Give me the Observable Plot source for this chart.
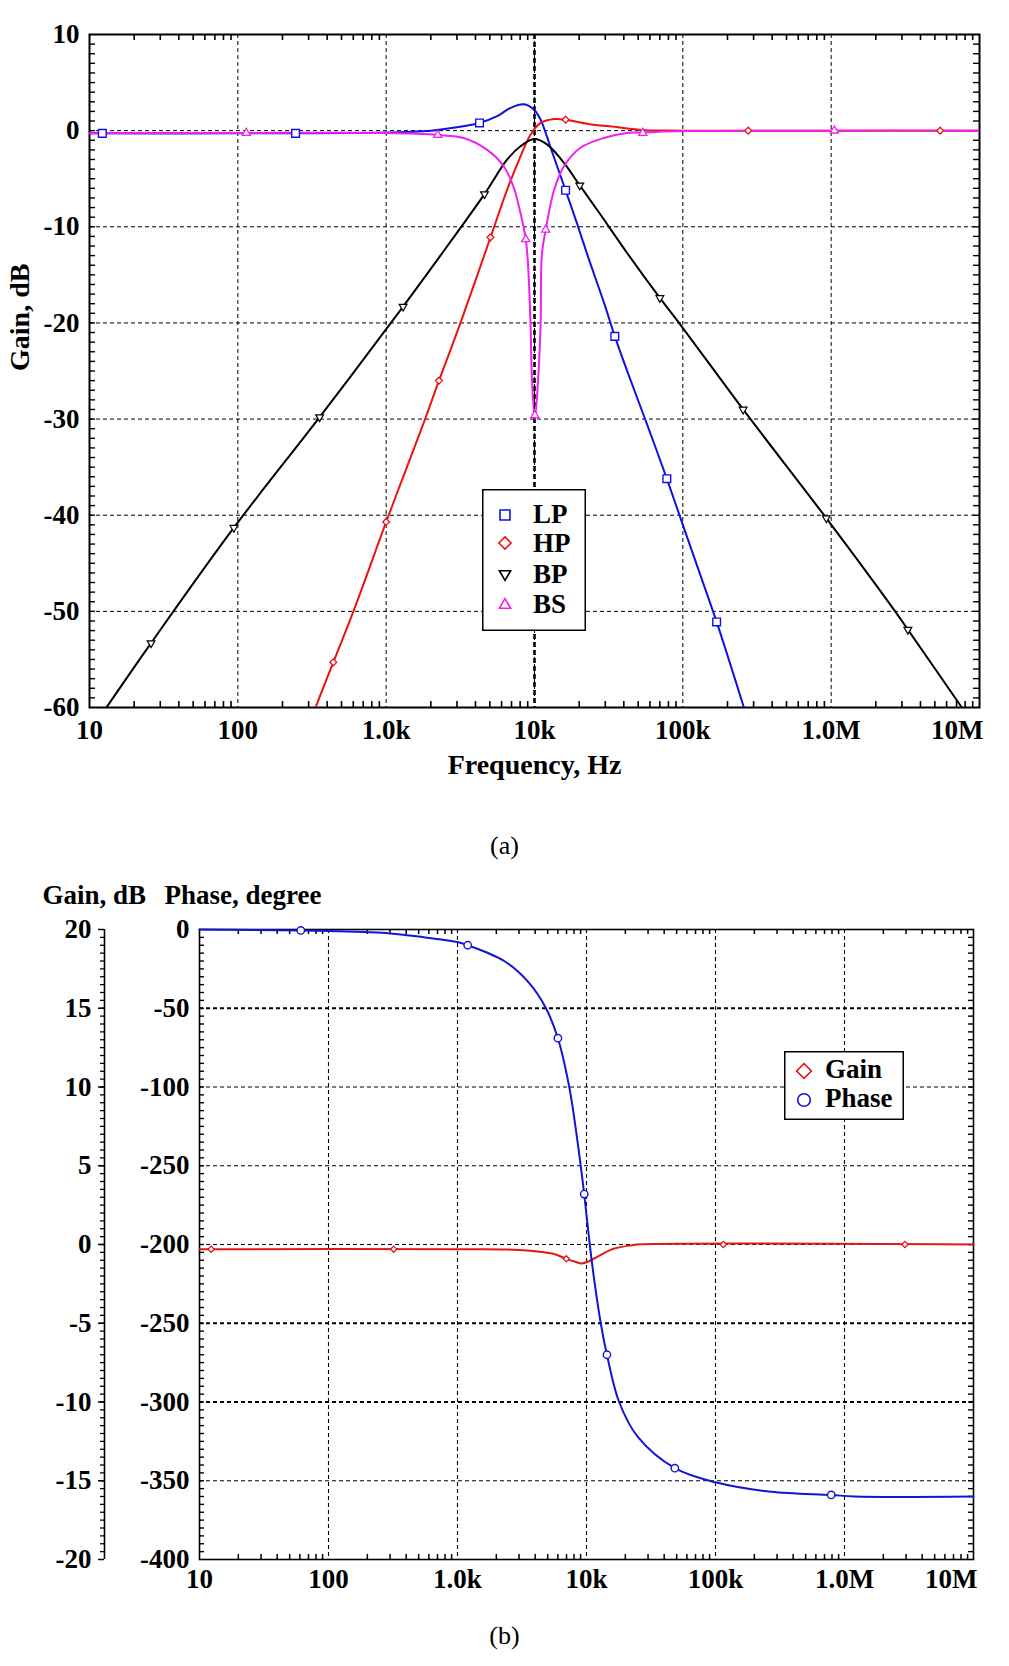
<!DOCTYPE html>
<html>
<head>
<meta charset="utf-8">
<script src="https://cdn.jsdelivr.net/npm/d3@7"></script>
<script src="https://cdn.jsdelivr.net/npm/@observablehq/plot@0.6"></script>
<style>
  html, body { margin: 0; padding: 0; background: #fff; overflow: hidden; }
  #page { position: relative; width: 1009px; height: 1666px; }
  #page > * { position: absolute; }
</style>
</head>
<body>
<div id="page"></div>
<script>
// ---------- (a) filter responses: frequency (Hz) and gain (dB) ----------
const lpFreq = [10, 100, 1000, 2000, 3000, 4260, 5600, 6900, 8470, 9960, 11000, 11900, 13200, 16200, 19400, 22700, 29700, 34800, 42600, 56600, 78000, 100000, 129000, 169000, 258000];
const lpGain = [-0.28, -0.28, -0.2, 0, 0.35, 0.8, 1.5, 2.36, 2.74, 2.15, 1.14, -0.24, -2.3, -6.2, -9.7, -12.9, -18.1, -21.4, -25.2, -30.3, -36.2, -41.0, -45.9, -51.1, -60];

const hpFreq = [334, 440, 605, 1000, 1310, 1840, 2270, 3170, 5050, 6550, 8050, 9400, 11000, 13600, 16200, 23000, 35900, 44000, 55000, 100000, 1e7];
const hpGain = [-60, -55.3, -49.9, -40.7, -35.9, -29.9, -26.0, -20, -11.1, -6.1, -2.67, -0.42, 0.8, 1.2, 1.14, 0.7, 0.38, 0.2, 0.05, 0, 0];

const bpFreq = [13, 26, 94, 356, 1300, 2320, 4600, 6550, 8050, 9960, 12200, 15800, 20200, 27900, 42000, 70000, 97500, 255000, 927000, 2670000, 3290000, 7600000];
const bpGain = [-60, -53.3, -41.3, -29.8, -18.3, -13.0, -6.6, -3.0, -1.63, -0.87, -1.46, -3.36, -5.7, -8.75, -12.7, -17.4, -20.3, -29.0, -40.3, -49.9, -51.9, -60];

const bsFreq = [10, 114, 1000, 2230, 3330, 4800, 6200, 7200, 8050, 8730, 9000, 9400, 9600, 10050, 10600, 11000, 11200, 11900, 13600, 15800, 20300, 29300, 42000, 53700, 100000, 1000000, 1e7];
const bsGain = [-0.28, -0.24, -0.25, -0.45, -0.76, -2.0, -3.7, -5.8, -8.6, -11.3, -13.4, -20, -25.6, -30, -25.6, -20, -13, -10.3, -6.1, -3.7, -1.8, -0.76, -0.24, -0.2, -0.05, 0, 0];

// marker samples on each curve
const lpMarkF = [12.2, 245, 4260, 16200, 34800, 78000, 169000];
const lpMarkG = [-0.28, -0.28, 0.8, -6.2, -21.4, -36.2, -51.1];
const hpMarkF = [440, 1000, 2270, 5050, 16200, 276000, 5430000];
const hpMarkG = [-55.3, -40.7, -26.0, -11.1, 1.14, 0, 0];
const bpMarkF = [26, 94, 356, 1300, 4600, 20200, 70000, 255000, 927000, 3290000];
const bpMarkG = [-53.3, -41.3, -29.8, -18.3, -6.6, -5.7, -17.4, -29.0, -40.3, -51.9];
const bsMarkF = [114, 2230, 8730, 10050, 11900, 53700, 1050000];
const bsMarkG = [-0.24, -0.45, -11.3, -29.6, -10.3, -0.24, 0];

// ---------- (b) all-pass response ----------
const phaseFreq = [10, 60, 100, 300, 500, 1000, 1200, 2300, 3600, 4850, 6000, 7350, 8500, 9600, 10500, 11500, 12900, 14400, 17900, 24900, 48400, 100000, 269000, 789000, 1200000, 1e7];
const phaseDeg = [0, -0.6, -1, -2.5, -4.5, -8, -10, -20, -34, -50, -69, -100, -134, -168, -197, -223, -250, -270, -300, -322, -342, -351, -357, -359, -360, -360];
const phaseMarkF = [61, 1200, 6000, 9600, 14400, 48400, 789000];
const phaseMarkD = [-0.6, -10, -69, -168, -270, -342, -359];

const apGainFreq = [10, 1000, 3000, 5500, 6970, 8200, 9200, 10500, 12000, 14000, 16200, 21800, 25000, 1e7];
const apGainDb = [-0.3, -0.3, -0.35, -0.59, -0.91, -1.1, -1.2, -1.05, -0.8, -0.5, -0.27, -0.06, 0, 0];
const apGainMarkF = [12.3, 320, 6970, 115000, 2940000];
const apGainMarkD = [-0.3, -0.3, -0.91, 0, 0];

// ---------- axes ----------
const decadeTicks = [10, 100, 1e3, 1e4, 1e5, 1e6, 1e7];
const decadeLabels = ["10", "100", "1.0k", "10k", "100k", "1.0M", "10M"];
const freqGrid = [100, 1e3, 1e4, 1e5, 1e6];
const centerFreq = 1e4;

const gainTicksA = [10, 0, -10, -20, -30, -40, -50, -60];
const gainGridA = [0, -10, -20, -30, -40, -50];

const phaseTicks = [0, -50, -100, -150, -200, -250, -300, -350, -400];
const phaseTickLabels = ["0", "-50", "-100", "-250", "-200", "-250", "-300", "-350", "-400"];
const phaseGrid = [-50, -100, -150, -200, -250, -300, -350];
const phaseGridBold = [-50, -250, -300];
const gainTicksB = [20, 15, 10, 5, 0, -5, -10, -15, -20];

// ---------- styling ----------
const W = 1009;
const FONT = "'Liberation Serif', 'Times New Roman', serif";
const svgStyle = `background: transparent; overflow: visible; font-family: ${FONT};`;
const DASH = "4,3";
const C = {lp: "#1010e6", hp: "#ec1212", bp: "#000000", bs: "#ee22ee", phase: "#1414d4", gain: "#e01818"};
const PAGE_CENTER = 504;

const minorFreq = decadeTicks.slice(0, -1).flatMap(d => d3.range(2, 10).map(k => d * k));
const xLabel = new Map(decadeTicks.map((d, i) => [d, decadeLabels[i]]));
const phaseLabel = new Map(phaseTicks.map((d, i) => [d, phaseTickLabels[i]]));
const innerTicks = decadeTicks.slice(0, -1);
const lastTick = decadeTicks.slice(-1);

// frequency labels; the last one is pulled inside the right edge
function freqAxis(padding) {
  const common = {tickSize: 0, tickPadding: padding, tickFormat: d => xLabel.get(d), fontSize: 27, fontWeight: "bold", label: null};
  return [
    Plot.axisX(innerTicks, common),
    Plot.axisX(lastTick, {...common, textAnchor: "end", dx: 4})
  ];
}

const page = document.getElementById("page");
function place(node, left, top) {
  node.style.position = "absolute";
  node.style.left = left + "px";
  node.style.top = top + "px";
  page.appendChild(node);
}

// ---------- chart (a) ----------
const A = {width: W, height: 870, marginLeft: 89, marginRight: 30, marginTop: 34, marginBottom: 163};
const aW = A.width - A.marginLeft - A.marginRight;
const aH = A.height - A.marginTop - A.marginBottom;
const aCenter = A.marginLeft + aW / 2;
const minorGainA = d3.range(-59, 10);

const chartA = Plot.plot({
  ...A,
  style: svgStyle,
  x: {type: "log", domain: [10, 1e7]},
  y: {domain: [-60, 10]},
  marks: [
    Plot.ruleY(gainGridA, {y: d => d, stroke: "#000", strokeWidth: 1, strokeDasharray: DASH}),
    Plot.ruleX(freqGrid, {x: d => d, stroke: "#000", strokeWidth: 1, strokeDasharray: DASH}),
    Plot.ruleX([centerFreq], {x: d => d, stroke: "#000", strokeWidth: 2.6, strokeDasharray: "5,3"}),
    Plot.ruleX(minorFreq, {x: d => d, insetTop: aH - 6, strokeWidth: 1.6}),
    Plot.ruleX(minorFreq, {x: d => d, insetBottom: aH - 6, strokeWidth: 1.6}),
    Plot.ruleY(minorGainA, {y: d => d, insetRight: aW - 6, strokeWidth: 1.4}),
    Plot.ruleY(minorGainA, {y: d => d, insetLeft: aW - 6, strokeWidth: 1.4}),
    Plot.frame({stroke: "#000", strokeWidth: 2}),

    Plot.line(lpFreq, {x: lpFreq, y: lpGain, stroke: C.lp, strokeWidth: 2, curve: "catmull-rom", clip: true}),
    Plot.line(hpFreq, {x: hpFreq, y: hpGain, stroke: C.hp, strokeWidth: 2, curve: "catmull-rom", clip: true}),
    Plot.line(bpFreq, {x: bpFreq, y: bpGain, stroke: C.bp, strokeWidth: 2, curve: "catmull-rom", clip: true}),
    Plot.line(bsFreq, {x: bsFreq, y: bsGain, stroke: C.bs, strokeWidth: 2, curve: "catmull-rom", clip: true}),

    Plot.dot(lpMarkF, {x: lpMarkF, y: lpMarkG, symbol: "square2", r: 4.9, stroke: C.lp, fill: "white", strokeWidth: 1.4}),
    Plot.dot(hpMarkF, {x: hpMarkF, y: hpMarkG, symbol: "diamond2", r: 3.1, stroke: C.hp, fill: "white", strokeWidth: 1.3}),
    Plot.dot(bpMarkF, {x: bpMarkF, y: bpMarkG, symbol: "triangle2", r: 3.7, rotate: 180, stroke: C.bp, fill: "white", strokeWidth: 1.2}),
    Plot.dot(bsMarkF, {x: bsMarkF, y: bsMarkG, symbol: "triangle2", r: 3.9, stroke: C.bs, fill: "white", strokeWidth: 1.3}),

    ...freqAxis(12),
    Plot.axisY(gainTicksA, {tickSize: 0, tickPadding: 10, tickFormat: d => String(d), fontSize: 27, fontWeight: "bold", label: null}),
    Plot.text(["Frequency, Hz"], {text: d => d, frameAnchor: "bottom", lineAnchor: "bottom", dy: 66, fontSize: 28, fontWeight: "bold"}),
    Plot.text(["Gain, dB"], {text: d => d, frameAnchor: "left", rotate: -90, dx: -69, fontSize: 28, fontWeight: "bold"}),
    Plot.text(["(a)"], {text: d => d, frameAnchor: "bottom", lineAnchor: "bottom", dx: PAGE_CENTER - aCenter, dy: 146, fontSize: 26})
  ]
});
place(chartA, 0, 0);

// ---------- chart (b) ----------
const B = {width: W, height: 796, marginLeft: 199, marginRight: 36, marginTop: 59, marginBottom: 107};
const bW = B.width - B.marginLeft - B.marginRight;
const bH = B.height - B.marginTop - B.marginBottom;
const bCenter = B.marginLeft + bW / 2;
const minorPhase = d3.range(-395, 0, 5);
const minorGainB = d3.range(-19.5, 20, 0.5);
const logX = {type: "log", domain: [10, 1e7]};

// frame, grid, phase axis and frequency axis
const baseB = Plot.plot({
  ...B,
  style: svgStyle,
  x: logX,
  y: {domain: [-400, 0]},
  marks: [
    Plot.ruleY(phaseGrid.filter(d => !phaseGridBold.includes(d)), {y: d => d, stroke: "#000", strokeWidth: 1.1, strokeDasharray: DASH}),
    Plot.ruleY(phaseGridBold, {y: d => d, stroke: "#000", strokeWidth: 2, strokeDasharray: DASH}),
    Plot.ruleX(freqGrid, {x: d => d, stroke: "#000", strokeWidth: 1.1, strokeDasharray: DASH}),
    Plot.ruleX(minorFreq, {x: d => d, insetTop: bH - 5, strokeWidth: 1.5}),
    Plot.ruleX(minorFreq, {x: d => d, insetBottom: bH - 5, strokeWidth: 1.5}),
    Plot.ruleY(minorPhase, {y: d => d, insetRight: bW - 5, strokeWidth: 1.4}),
    Plot.ruleY(minorPhase, {y: d => d, insetLeft: bW - 5, strokeWidth: 1.4}),
    Plot.frame({stroke: "#000", strokeWidth: 1.6}),
    ...freqAxis(9.5),
    Plot.axisY(phaseTicks, {tickSize: 0, tickPadding: 10, tickFormat: d => phaseLabel.get(d), fontSize: 27, fontWeight: "bold", label: null}),
    Plot.text(["Gain, dB"], {text: d => d, frameAnchor: "top-left", textAnchor: "start", lineAnchor: "bottom", dx: -157, dy: -26, fontSize: 27, fontWeight: "bold"}),
    Plot.text(["Phase, degree"], {text: d => d, frameAnchor: "top-left", textAnchor: "start", lineAnchor: "bottom", dx: -35, dy: -26, fontSize: 27, fontWeight: "bold"}),
    Plot.text(["(b)"], {text: d => d, frameAnchor: "bottom", lineAnchor: "bottom", dx: PAGE_CENTER - bCenter, dy: 84, fontSize: 26})
  ]
});
place(baseB, 0, 870);

// gain curve on its own dB scale, with the offset gain axis
const gainB = Plot.plot({
  ...B,
  style: svgStyle,
  x: {...logX, axis: null},
  y: {domain: [-20, 20]},
  marks: [
    Plot.ruleX([10], {x: d => d, dx: -95, stroke: "#000", strokeWidth: 1.6}),
    Plot.axisY(minorGainB, {anchor: "left", dx: -95, tickSize: 4, tickFormat: () => "", label: null, strokeWidth: 1.3}),
    Plot.axisY(gainTicksB, {anchor: "left", dx: -95, tickSize: 6, tickPadding: 7, tickFormat: d => String(d), fontSize: 27, fontWeight: "bold", label: null, strokeWidth: 1.5}),
    Plot.line(apGainFreq, {x: apGainFreq, y: apGainDb, stroke: C.gain, strokeWidth: 2, curve: "catmull-rom"}),
    Plot.dot(apGainMarkF, {x: apGainMarkF, y: apGainMarkD, symbol: "diamond2", r: 2.8, stroke: C.gain, fill: "white", strokeWidth: 1.3})
  ]
});
place(gainB, 0, 870);

// phase curve drawn last so it sits over the gain trace
const phaseB = Plot.plot({
  ...B,
  style: svgStyle,
  x: {...logX, axis: null},
  y: {domain: [-400, 0], axis: null},
  marks: [
    Plot.line(phaseFreq, {x: phaseFreq, y: phaseDeg, stroke: C.phase, strokeWidth: 2, curve: "catmull-rom"}),
    Plot.dot(phaseMarkF, {x: phaseMarkF, y: phaseMarkD, symbol: "circle", r: 3.7, stroke: C.phase, fill: "white", strokeWidth: 1.4})
  ]
});
place(phaseB, 0, 870);

// ---------- legends ----------
function legend(box, rows) {
  const svg = d3.create("svg")
    .attr("width", box.w).attr("height", box.h)
    .style("font-family", FONT).style("overflow", "visible");
  svg.append("rect").attr("x", 0.75).attr("y", 0.75)
    .attr("width", box.w - 1.5).attr("height", box.h - 1.5)
    .attr("fill", "white").attr("stroke", "#000").attr("stroke-width", 1.5);
  for (const r of rows) {
    svg.append("path")
      .attr("d", d3.symbol(r.symbol, r.size)())
      .attr("transform", `translate(${r.mx},${r.my}) rotate(${r.rotate || 0})`)
      .attr("fill", "white").attr("stroke", r.color).attr("stroke-width", 1.6);
    svg.append("text").attr("x", r.tx).attr("y", r.ty)
      .attr("font-size", 27).attr("font-weight", "bold").attr("fill", "#000")
      .text(r.label);
  }
  place(svg.node(), box.x, box.y);
}

legend({x: 482, y: 489, w: 104, h: 142}, [
  {label: "LP", symbol: d3.symbolSquare2, size: 125, color: C.lp, mx: 23, my: 26, tx: 51, ty: 34},
  {label: "HP", symbol: d3.symbolDiamond2, size: 95, color: C.hp, mx: 23, my: 54, tx: 51, ty: 63},
  {label: "BP", symbol: d3.symbolTriangle2, size: 90, color: C.bp, rotate: 180, mx: 23, my: 85, tx: 51, ty: 94},
  {label: "BS", symbol: d3.symbolTriangle2, size: 90, color: C.bs, mx: 23, my: 116, tx: 51, ty: 124}
]);

legend({x: 784, y: 1051, w: 120, h: 69}, [
  {label: "Gain", symbol: d3.symbolDiamond2, size: 140, color: C.gain, mx: 20, my: 20, tx: 41, ty: 27},
  {label: "Phase", symbol: d3.symbolCircle, size: 125, color: C.phase, mx: 20, my: 49, tx: 41, ty: 56}
]);
</script>
</body>
</html>
